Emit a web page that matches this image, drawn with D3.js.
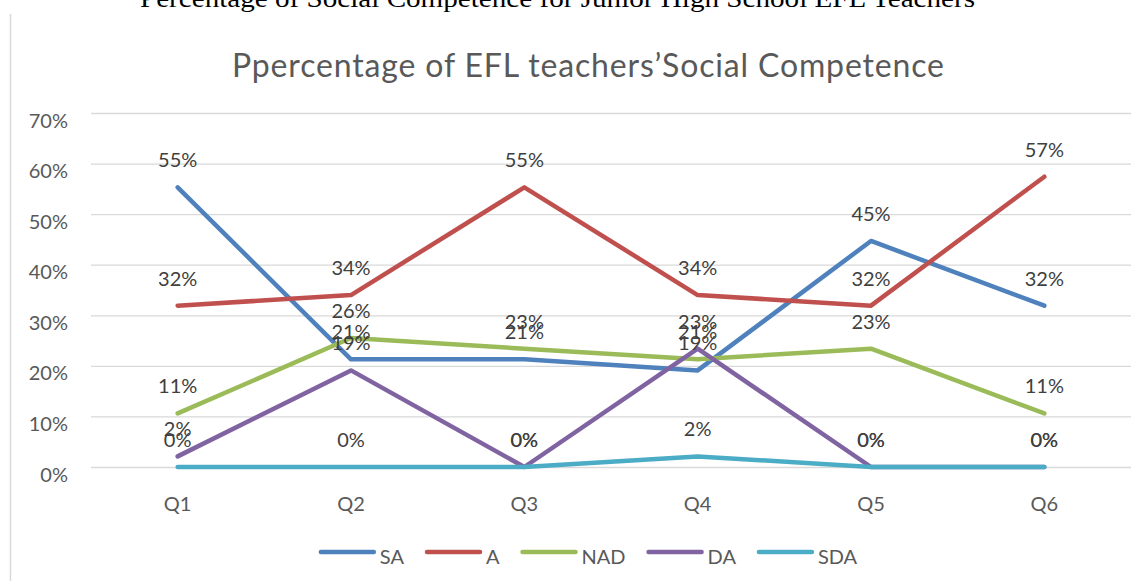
<!DOCTYPE html>
<html>
<head>
<meta charset="utf-8">
<script src="https://cdn.jsdelivr.net/npm/d3@7"></script>
<style>
  body { margin: 0; background: #fff; }
  svg { display: block; }
  text { font-family: Lato, "Open Sans", sans-serif; }
</style>
</head>
<body>
<svg width="1148" height="581"></svg>
<script>
// data (n = 47 teachers, shares per question)
var questions = ["Q1", "Q2", "Q3", "Q4", "Q5", "Q6"];
var seriesNames = ["SA", "A", "NAD", "DA", "SDA"];
var seriesColors = ["#4f81bd", "#c0504d", "#9bbb59", "#8064a2", "#4bacc6"];
var saValues = [0.553, 0.213, 0.213, 0.191, 0.447, 0.319];
var aValues = [0.319, 0.340, 0.553, 0.340, 0.319, 0.574];
var nadValues = [0.106, 0.255, 0.234, 0.213, 0.234, 0.106];
var daValues = [0.021, 0.191, 0, 0.234, 0, 0];
var sdaValues = [0, 0, 0, 0.021, 0, 0];
var yTicks = [0, 0.1, 0.2, 0.3, 0.4, 0.5, 0.6, 0.7];
var topCaption = "Percentage of Social Competence for Junior High School EFL Teachers";
var chartTitle = "Ppercentage of EFL teachers\u2019Social Competence";

var allValues = [saValues, aValues, nadValues, daValues, sdaValues];
var series = seriesNames.map(function (name, i) {
  return { name: name, color: seriesColors[i], values: allValues[i] };
});

var svg = d3.select("svg");
var pct = d3.format(".0%");

var xScale = d3.scaleBand().domain(questions).range([91, 1131]);
var yScale = d3.scaleLinear().domain([0, 0.7]).range([467, 113]);
function xc(q) { return xScale(q) + xScale.bandwidth() / 2; }

// caption cut off at the top
svg.append("text")
  .attr("x", 140).attr("y", 7)
  .attr("textLength", 835).attr("lengthAdjust", "spacingAndGlyphs")
  .style("font-family", "'Liberation Serif', 'DejaVu Serif', serif")
  .style("font-size", "26px")
  .attr("fill", "#000")
  .text(topCaption);

// chart frame left edge
svg.append("line")
  .attr("x1", 10.5).attr("x2", 10.5).attr("y1", 14).attr("y2", 581)
  .attr("stroke", "#d9d9d9").attr("stroke-width", 1.5);

// title
svg.append("text")
  .attr("x", 232).attr("y", 77)
  .attr("textLength", 712).attr("lengthAdjust", "spacing")
  .attr("fill", "#595959")
  .style("font-size", "32px")
  .text(chartTitle);

// y axis + gridlines
var yAxis = svg.append("g")
  .attr("transform", "translate(91,0)")
  .call(d3.axisLeft(yScale).tickValues(yTicks).tickFormat(pct)
    .tickSize(-1040).tickPadding(23));
yAxis.select(".domain").remove();
yAxis.selectAll(".tick line").attr("stroke", "#d9d9d9").attr("stroke-width", 1.3);
yAxis.selectAll(".tick text")
  .attr("fill", "#595959").attr("dy", "0.75em").attr("y", -1)
  .style("font-size", "20px").style("font-family", "Lato, sans-serif");

// x axis labels
var xAxis = svg.append("g")
  .attr("transform", "translate(0,467)")
  .call(d3.axisBottom(xScale).tickSize(0).tickPadding(30));
xAxis.select(".domain").remove();
xAxis.selectAll(".tick text")
  .attr("fill", "#595959")
  .style("font-size", "20px").style("font-family", "Lato, sans-serif");

// lines
var line = d3.line()
  .x(function (d, i) { return xc(questions[i]); })
  .y(function (d) { return yScale(d); });

svg.selectAll(".series")
  .data(series)
  .enter().append("path")
  .attr("class", "series")
  .attr("d", function (d) { return line(d.values); })
  .attr("fill", "none")
  .attr("stroke", function (d) { return d.color; })
  .attr("stroke-width", 4.5)
  .attr("stroke-linecap", "round")
  .attr("stroke-linejoin", "round");

// data labels
series.forEach(function (s) {
  svg.append("g").selectAll("text")
    .data(s.values)
    .enter().append("text")
    .attr("x", function (d, i) { return xc(questions[i]); })
    .attr("y", function (d) { return yScale(d) - 20; })
    .attr("text-anchor", "middle")
    .attr("fill", "#404040")
    .style("font-size", "20px")
    .text(function (d) { return pct(d); });
});

// legend
var legend = svg.append("g");
var lx = 0;
series.forEach(function (s) {
  var item = legend.append("g").attr("transform", "translate(" + lx + ",0)");
  item.append("line")
    .attr("x1", 2).attr("x2", 55).attr("y1", 552).attr("y2", 552)
    .attr("stroke", s.color).attr("stroke-width", 4.5).attr("stroke-linecap", "round");
  var t = item.append("text")
    .attr("x", 61).attr("y", 564)
    .attr("fill", "#595959")
    .style("font-size", "20px")
    .text(s.name);
  lx += 61 + t.node().getComputedTextLength() + 21;
});
legend.attr("transform", "translate(" + (588 - (lx - 21) / 2) + ",0)");
</script>
</body>
</html>
